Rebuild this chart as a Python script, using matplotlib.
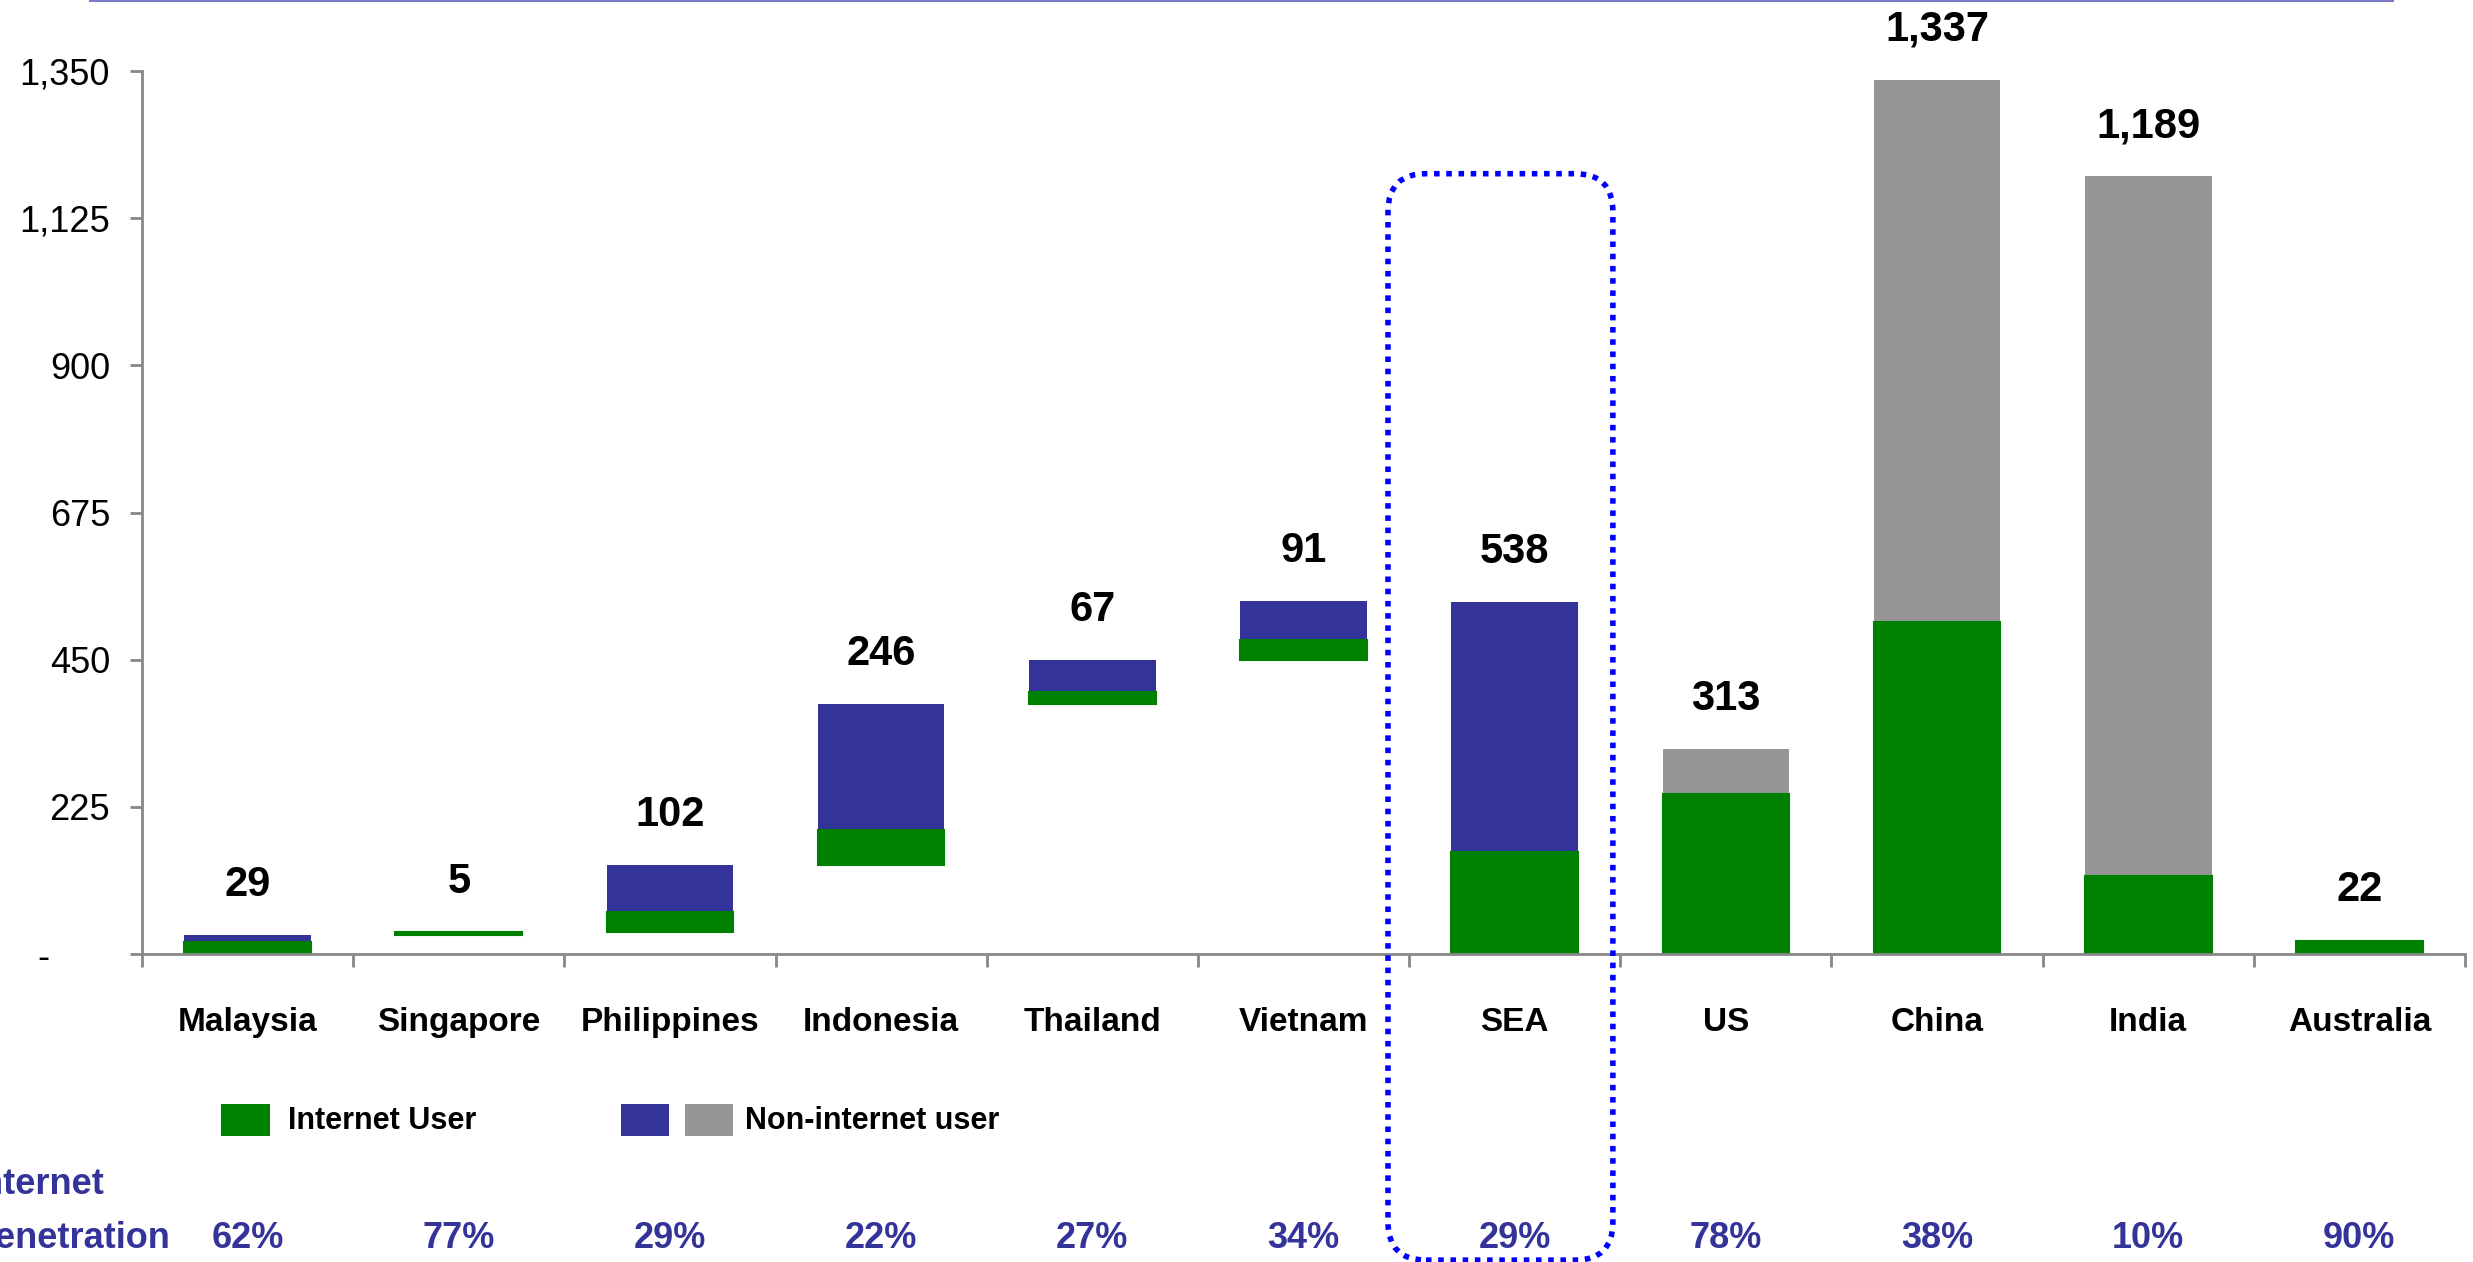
import matplotlib
matplotlib.use('Agg')
import matplotlib.pyplot as plt
from matplotlib.patches import FancyBboxPatch, Rectangle
from matplotlib.lines import Line2D
import matplotlib.transforms as mtransforms
import numpy as np

plt.rcParams['font.family'] = ['Liberation Sans', 'DejaVu Sans']

# ---------------- data ----------------
categories = ['Malaysia', 'Singapore', 'Philippines', 'Indonesia', 'Thailand',
              'Vietnam', 'SEA', 'US', 'China', 'India', 'Australia']
population = [29, 5, 102, 246, 67, 91, 538, 313, 1337, 1189, 22]
internet_users = [18, 3.9, 29.6, 54, 18, 31, 156, 244, 508, 119, 20]
penetration = ['62%', '77%', '29%', '22%', '27%', '34%', '29%', '78%', '38%', '10%', '90%']
sea_members = ['Malaysia', 'Singapore', 'Philippines', 'Indonesia', 'Thailand', 'Vietnam']
y_ticks = [0, 225, 450, 675, 900, 1125, 1350]
y_tick_labels = ['-      ', '225', '450', '675', '900', '1,125', '1,350']

GREEN = '#008000'
BLUE = '#333399'
GRAY = '#969696'
AXIS = '#888888'

W, H = 2473, 1262
fig = plt.figure(figsize=(W / 100, H / 100), dpi=100)
ax = fig.add_axes([142 / W, 1 - 954 / H, (2465 - 142) / W, (954 - 71) / H])

# waterfall bases
bases = []
running = 0
for cat, pop in zip(categories, population):
    if cat in sea_members:
        bases.append(running)
        running += pop
    else:
        bases.append(0)
bases = np.array(bases, dtype=float)
pop_arr = np.array(population, dtype=float)
inet = np.array(internet_users, dtype=float)
non_inet = pop_arr - inet
non_colors = [BLUE if (c in sea_members or c == 'SEA') else GRAY for c in categories]

x = np.arange(len(categories))
ax.bar(x, non_inet, bottom=bases + inet, width=0.6, color=non_colors,
       linewidth=0, zorder=1)
ax.bar(x, inet, bottom=bases, width=0.6, color=GREEN, edgecolor=GREEN,
       linewidth=1.5, zorder=2)

for xi, b, p in zip(x, bases, population):
    ax.annotate(f'{p:,}', (xi, b + p), xytext=(0, 36), textcoords='offset points',
                ha='center', va='center', fontsize=30, fontweight='bold', color='black')

ax.set_xlim(-0.5, 10.5)
ax.set_ylim(0, 1350)
for s in ['top', 'right']:
    ax.spines[s].set_visible(False)
for s in ['left', 'bottom']:
    ax.spines[s].set_color(AXIS)
    ax.spines[s].set_linewidth(2)
    ax.spines[s].set_zorder(3)

ax.set_xticks(x)
ax.set_xticklabels(categories, fontsize=24, fontweight='bold')
ax.tick_params(axis='x', which='major', length=0, pad=38)
ax.set_xticks(np.arange(-0.5, 11, 1), minor=True)
ax.tick_params(axis='x', which='minor', length=9.5, width=2, color=AXIS, direction='out')

ax.set_yticks(y_ticks)
ax.set_yticklabels(y_tick_labels, fontsize=26)
ax.tick_params(axis='y', which='major', length=9, width=2, color=AXIS, pad=14)

# penetration row
trans = mtransforms.blended_transform_factory(ax.transData, fig.transFigure)
for xi, pct in zip(x, penetration):
    ax.text(xi, 1 - 1238 / H, pct, transform=trans, ha='center', va='center',
            fontsize=26, fontweight='bold', color=BLUE, clip_on=False)
fig.text(104 / W, 1 - 1184 / H, 'Internet', ha='right', va='center',
         fontsize=26, fontweight='bold', color=BLUE)
fig.text(170 / W, 1 - 1238 / H, 'Penetration', ha='right', va='center',
         fontsize=26, fontweight='bold', color=BLUE)

# legend (manual)
fig.add_artist(Rectangle((221 / W, 1 - 1136 / H), 49 / W, 32 / H, transform=fig.transFigure,
                         facecolor=GREEN, edgecolor='none'))
fig.text(288 / W, 1 - 1121 / H, 'Internet User', ha='left', va='center',
         fontsize=22, fontweight='bold')
fig.add_artist(Rectangle((621 / W, 1 - 1136 / H), 48 / W, 32 / H, transform=fig.transFigure,
                         facecolor=BLUE, edgecolor='none'))
fig.add_artist(Rectangle((685 / W, 1 - 1136 / H), 48 / W, 32 / H, transform=fig.transFigure,
                         facecolor=GRAY, edgecolor='none'))
fig.text(745 / W, 1 - 1121 / H, 'Non-internet user', ha='left', va='center',
         fontsize=22, fontweight='bold')

# top decorative line
fig.add_artist(Line2D([90 / W, 2393 / W], [1 - 1 / H, 1 - 1 / H], transform=fig.transFigure,
                      color='#7b7bc6', lw=1.5))

# dotted highlight box around SEA
p0 = ax.transData.transform((5.40, -468))
p1 = ax.transData.transform((6.465, 1193))
box = FancyBboxPatch((p0[0], p0[1]), p1[0] - p0[0], p1[1] - p0[1],
                     boxstyle='round,pad=0,rounding_size=38',
                     transform=mtransforms.IdentityTransform(), fill=False,
                     edgecolor='#0000ff', lw=4, linestyle=(0, (1, 1.2)), clip_on=False)
fig.add_artist(box)

fig.savefig('out.png', dpi=100)
